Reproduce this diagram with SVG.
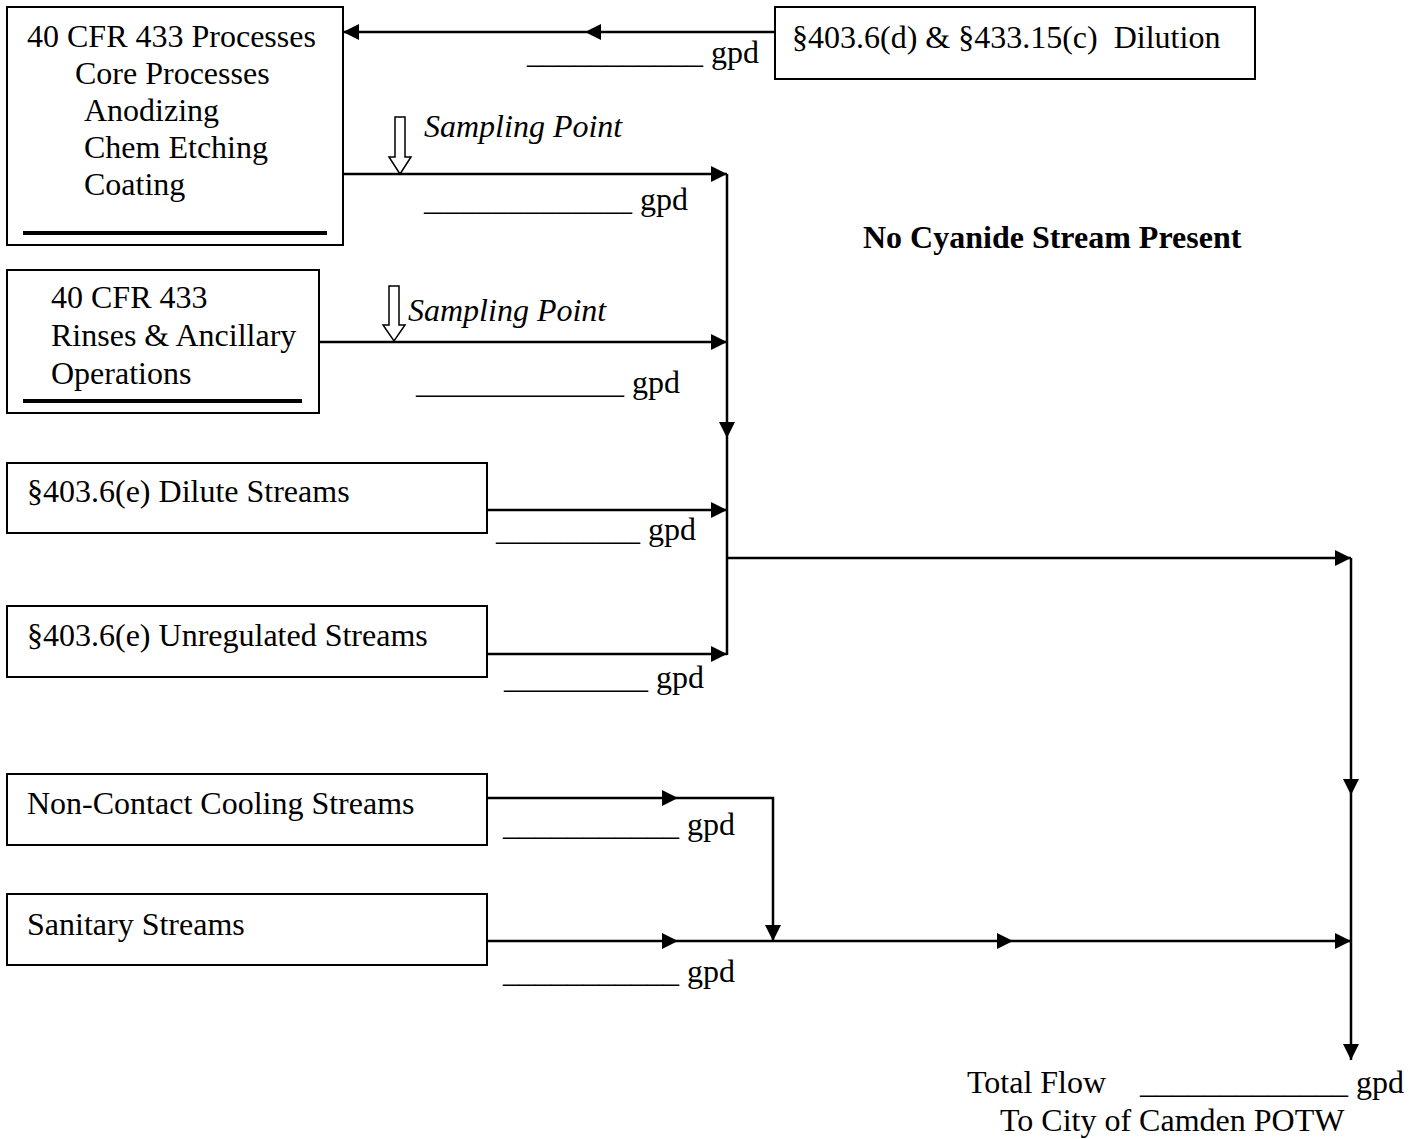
<svg xmlns="http://www.w3.org/2000/svg" width="1419" height="1139" viewBox="0 0 1419 1139">
<style>
text{font-family:"Liberation Serif","Times New Roman",serif;font-size:32px;fill:#000}
.it{font-style:italic}
.b{font-weight:bold}
.box{fill:#fff;stroke:#000;stroke-width:2}
.bar{stroke:#000;stroke-width:4}
.ln{stroke:#000;stroke-width:2.5;fill:none}
.sp{fill:#fff;stroke:#000;stroke-width:1.5}
</style>
<defs>
<marker id="ah" markerUnits="userSpaceOnUse" markerWidth="18" markerHeight="17" refX="16" refY="8" orient="auto">
<path d="M0,0 L16,8 L0,16 z" fill="#000"/>
</marker>
</defs>
<rect width="1419" height="1139" fill="#fff"/>

<g id="connectors">
<path class="ln" d="M775,32 H585" marker-end="url(#ah)"/>
<path class="ln" d="M585,32 H343" marker-end="url(#ah)"/>
<path class="ln" d="M343,174 H727" marker-end="url(#ah)"/>
<path class="ln" d="M319,342 H727" marker-end="url(#ah)"/>
<path class="ln" d="M727,174 V438" marker-end="url(#ah)"/>
<path class="ln" d="M727,438 V655"/>
<path class="ln" d="M487,510 H727" marker-end="url(#ah)"/>
<path class="ln" d="M487,654 H727" marker-end="url(#ah)"/>
<path class="ln" d="M727,558 H1351" marker-end="url(#ah)"/>
<path class="ln" d="M1351,558 V795" marker-end="url(#ah)"/>
<path class="ln" d="M1351,795 V1060" marker-end="url(#ah)"/>
<path class="ln" d="M487,798 H678" marker-end="url(#ah)"/>
<path class="ln" d="M678,798 H773 V941" marker-end="url(#ah)"/>
<path class="ln" d="M487,941 H678" marker-end="url(#ah)"/>
<path class="ln" d="M678,941 H1013" marker-end="url(#ah)"/>
<path class="ln" d="M1013,941 H1351" marker-end="url(#ah)"/>
<polygon class="sp" points="395,117 405,117 405,157 411,157 400,174 389,157 395,157"/>
<polygon class="sp" points="389,286 399,286 399,325 405,325 394,341 383,325 389,325"/>
</g>

<g id="node-core">
<rect class="box" x="7" y="7" width="336" height="238"/>
<line class="bar" x1="23" y1="233" x2="327" y2="233"/>
<text x="27" y="47">40 CFR 433 Processes</text>
<text x="75" y="84">Core Processes</text>
<text x="84" y="121">Anodizing</text>
<text x="84" y="158">Chem Etching</text>
<text x="84" y="195">Coating</text>
</g>

<g id="node-dilution">
<rect class="box" x="775" y="7" width="480" height="72"/>
<text x="792" y="48" xml:space="preserve">§403.6(d) &amp; §433.15(c)  Dilution</text>
</g>

<g id="node-rinses">
<rect class="box" x="7" y="270" width="312" height="143"/>
<line class="bar" x1="23" y1="401" x2="302" y2="401"/>
<text x="51" y="308">40 CFR 433</text>
<text x="51" y="346">Rinses &amp; Ancillary</text>
<text x="51" y="384">Operations</text>
</g>

<g id="node-dilute">
<rect class="box" x="7" y="463" width="480" height="70"/>
<text x="27" y="502">§403.6(e) Dilute Streams</text>
</g>

<g id="node-unregulated">
<rect class="box" x="7" y="606" width="480" height="71"/>
<text x="27" y="646">§403.6(e) Unregulated Streams</text>
</g>

<g id="node-cooling">
<rect class="box" x="7" y="774" width="480" height="71"/>
<text x="27" y="814">Non-Contact Cooling Streams</text>
</g>

<g id="node-sanitary">
<rect class="box" x="7" y="894" width="480" height="71"/>
<text x="27" y="935">Sanitary Streams</text>
</g>

<g id="labels">
<text x="527" y="63">___________ gpd</text>
<text class="it" x="424" y="137">Sampling Point</text>
<text x="424" y="210">_____________ gpd</text>
<text class="it" x="408" y="321">Sampling Point</text>
<text x="416" y="393">_____________ gpd</text>
<text class="b" x="863" y="248">No Cyanide Stream Present</text>
<text x="496" y="540">_________ gpd</text>
<text x="504" y="688">_________ gpd</text>
<text x="503" y="835">___________ gpd</text>
<text x="503" y="982">___________ gpd</text>
<text x="967" y="1093">Total Flow</text>
<text x="1140" y="1093">_____________ gpd</text>
<text x="1000" y="1131">To City of Camden POTW</text>
</g>
</svg>
